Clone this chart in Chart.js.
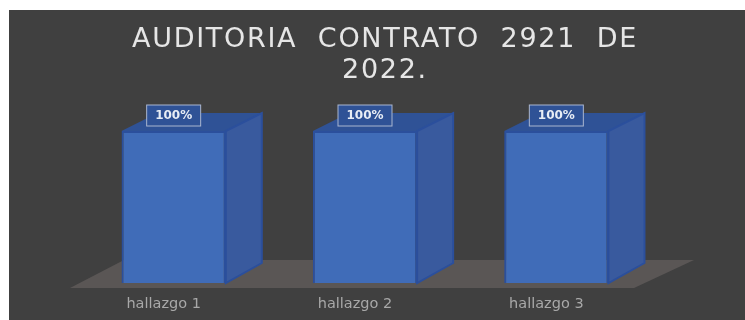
<!DOCTYPE html>
<html><head><meta charset="utf-8">
<style>html,body{margin:0;padding:0;background:#fff}canvas{display:block;filter:blur(0.7px)}</style>
<script src="https://cdn.jsdelivr.net/npm/chart.js@4"></script></head>
<body><div style="width:745px;height:320px"><canvas id="c"></canvas></div>
<script>
const categories = ['hallazgo 1','hallazgo 2','hallazgo 3'];
const values = [100,100,100];
const titleLines = ['AUDITORIA  CONTRATO  2921  DE','2022.'];

const depthX = 36, depthY = 18;
const scene = {
  id:'scene',
  afterLayout(ch){
    const tb = ch.titleBlock;
    tb.left += 20; tb.right += 20;
    if(!tb._spaced){
      tb._spaced = true;
      const d = tb.draw;
      tb.draw = function(){ const c=this.ctx; c.letterSpacing='1.7px'; d.call(this); c.letterSpacing='0px'; };
    }
  },
  beforeDraw(ch){
    const c = ch.ctx, a = ch.chartArea;
    c.save();
    c.fillStyle='#fff'; c.fillRect(0,0,745,320);
    c.fillStyle='#404040'; c.fillRect(9,10,736,310);
    const g = a.bottom+5, b = a.bottom-23;
    c.fillStyle='#5a5655';
    c.beginPath(); c.moveTo(70,g); c.lineTo(124,b); c.lineTo(694,b); c.lineTo(634,g); c.closePath(); c.fill();
    c.restore();
  },
  beforeDatasetsDraw(ch){
    const c = ch.ctx;
    c.save();
    ch.getDatasetMeta(0).data.forEach(el=>{
      const {x,y,base,width}=el.getProps(['x','y','base','width'],true);
      const l=x-width/2,r=x+width/2;
      c.fillStyle='#2f5296';
      c.beginPath();c.moveTo(l,y);c.lineTo(l+depthX,y-depthY);c.lineTo(r+depthX,y-depthY);c.lineTo(r,y);c.closePath();c.fill();
      c.fillStyle='#395a9e';
      c.strokeStyle='#2b4f9c';c.lineWidth=2;
      c.beginPath();c.moveTo(r,y);c.lineTo(r+depthX,y-depthY);c.lineTo(r+depthX,base-depthY-2);c.lineTo(r,base);c.closePath();c.fill();c.stroke();
    });
    c.restore();
  },
  afterDatasetsDraw(ch){
    const c = ch.ctx;
    c.save();
    ch.getDatasetMeta(0).data.forEach((el,i)=>{
      const x=el.x,y=el.y-15.5;
      c.fillStyle='#2f5296';c.fillRect(x-27,y-10.5,54,21);
      c.strokeStyle='#aab6cf';c.lineWidth=1;c.strokeRect(x-27,y-10.5,54,21);
      c.fillStyle='#e8edf5';c.font='bold 12px "DejaVu Sans"';c.textAlign='center';c.textBaseline='middle';
      c.fillText(values[i]+'%',x,y);
    });
    c.restore();
  }
};
new Chart(document.getElementById('c'),{
  type:'bar',
  data:{labels:categories,datasets:[{data:values,backgroundColor:'#406cb8',borderColor:'#2b4f9c',borderWidth:2,barPercentage:0.545,categoryPercentage:1}]},
  plugins:[scene],
  options:{
    responsive:true,maintainAspectRatio:false,animation:false,
    layout:{padding:{left:78,right:93,top:24,bottom:0}},
    plugins:{
      legend:{display:false},tooltip:{enabled:false},
      title:{display:true,text:titleLines,color:'#e6e6e6',font:{family:'"DejaVu Sans"',size:27,weight:'normal',lineHeight:1.15},padding:{top:0,bottom:44.9}}
    },
    scales:{
      x:{grid:{display:false},border:{display:false},afterFit(s){s.height=37},
         ticks:{color:'#a8a8a8',labelOffset:-10,font:{family:'"DejaVu Sans"',size:14.5},padding:5}},
      y:{display:false,min:0,max:100}
    }
  }
});
</script></body></html>
